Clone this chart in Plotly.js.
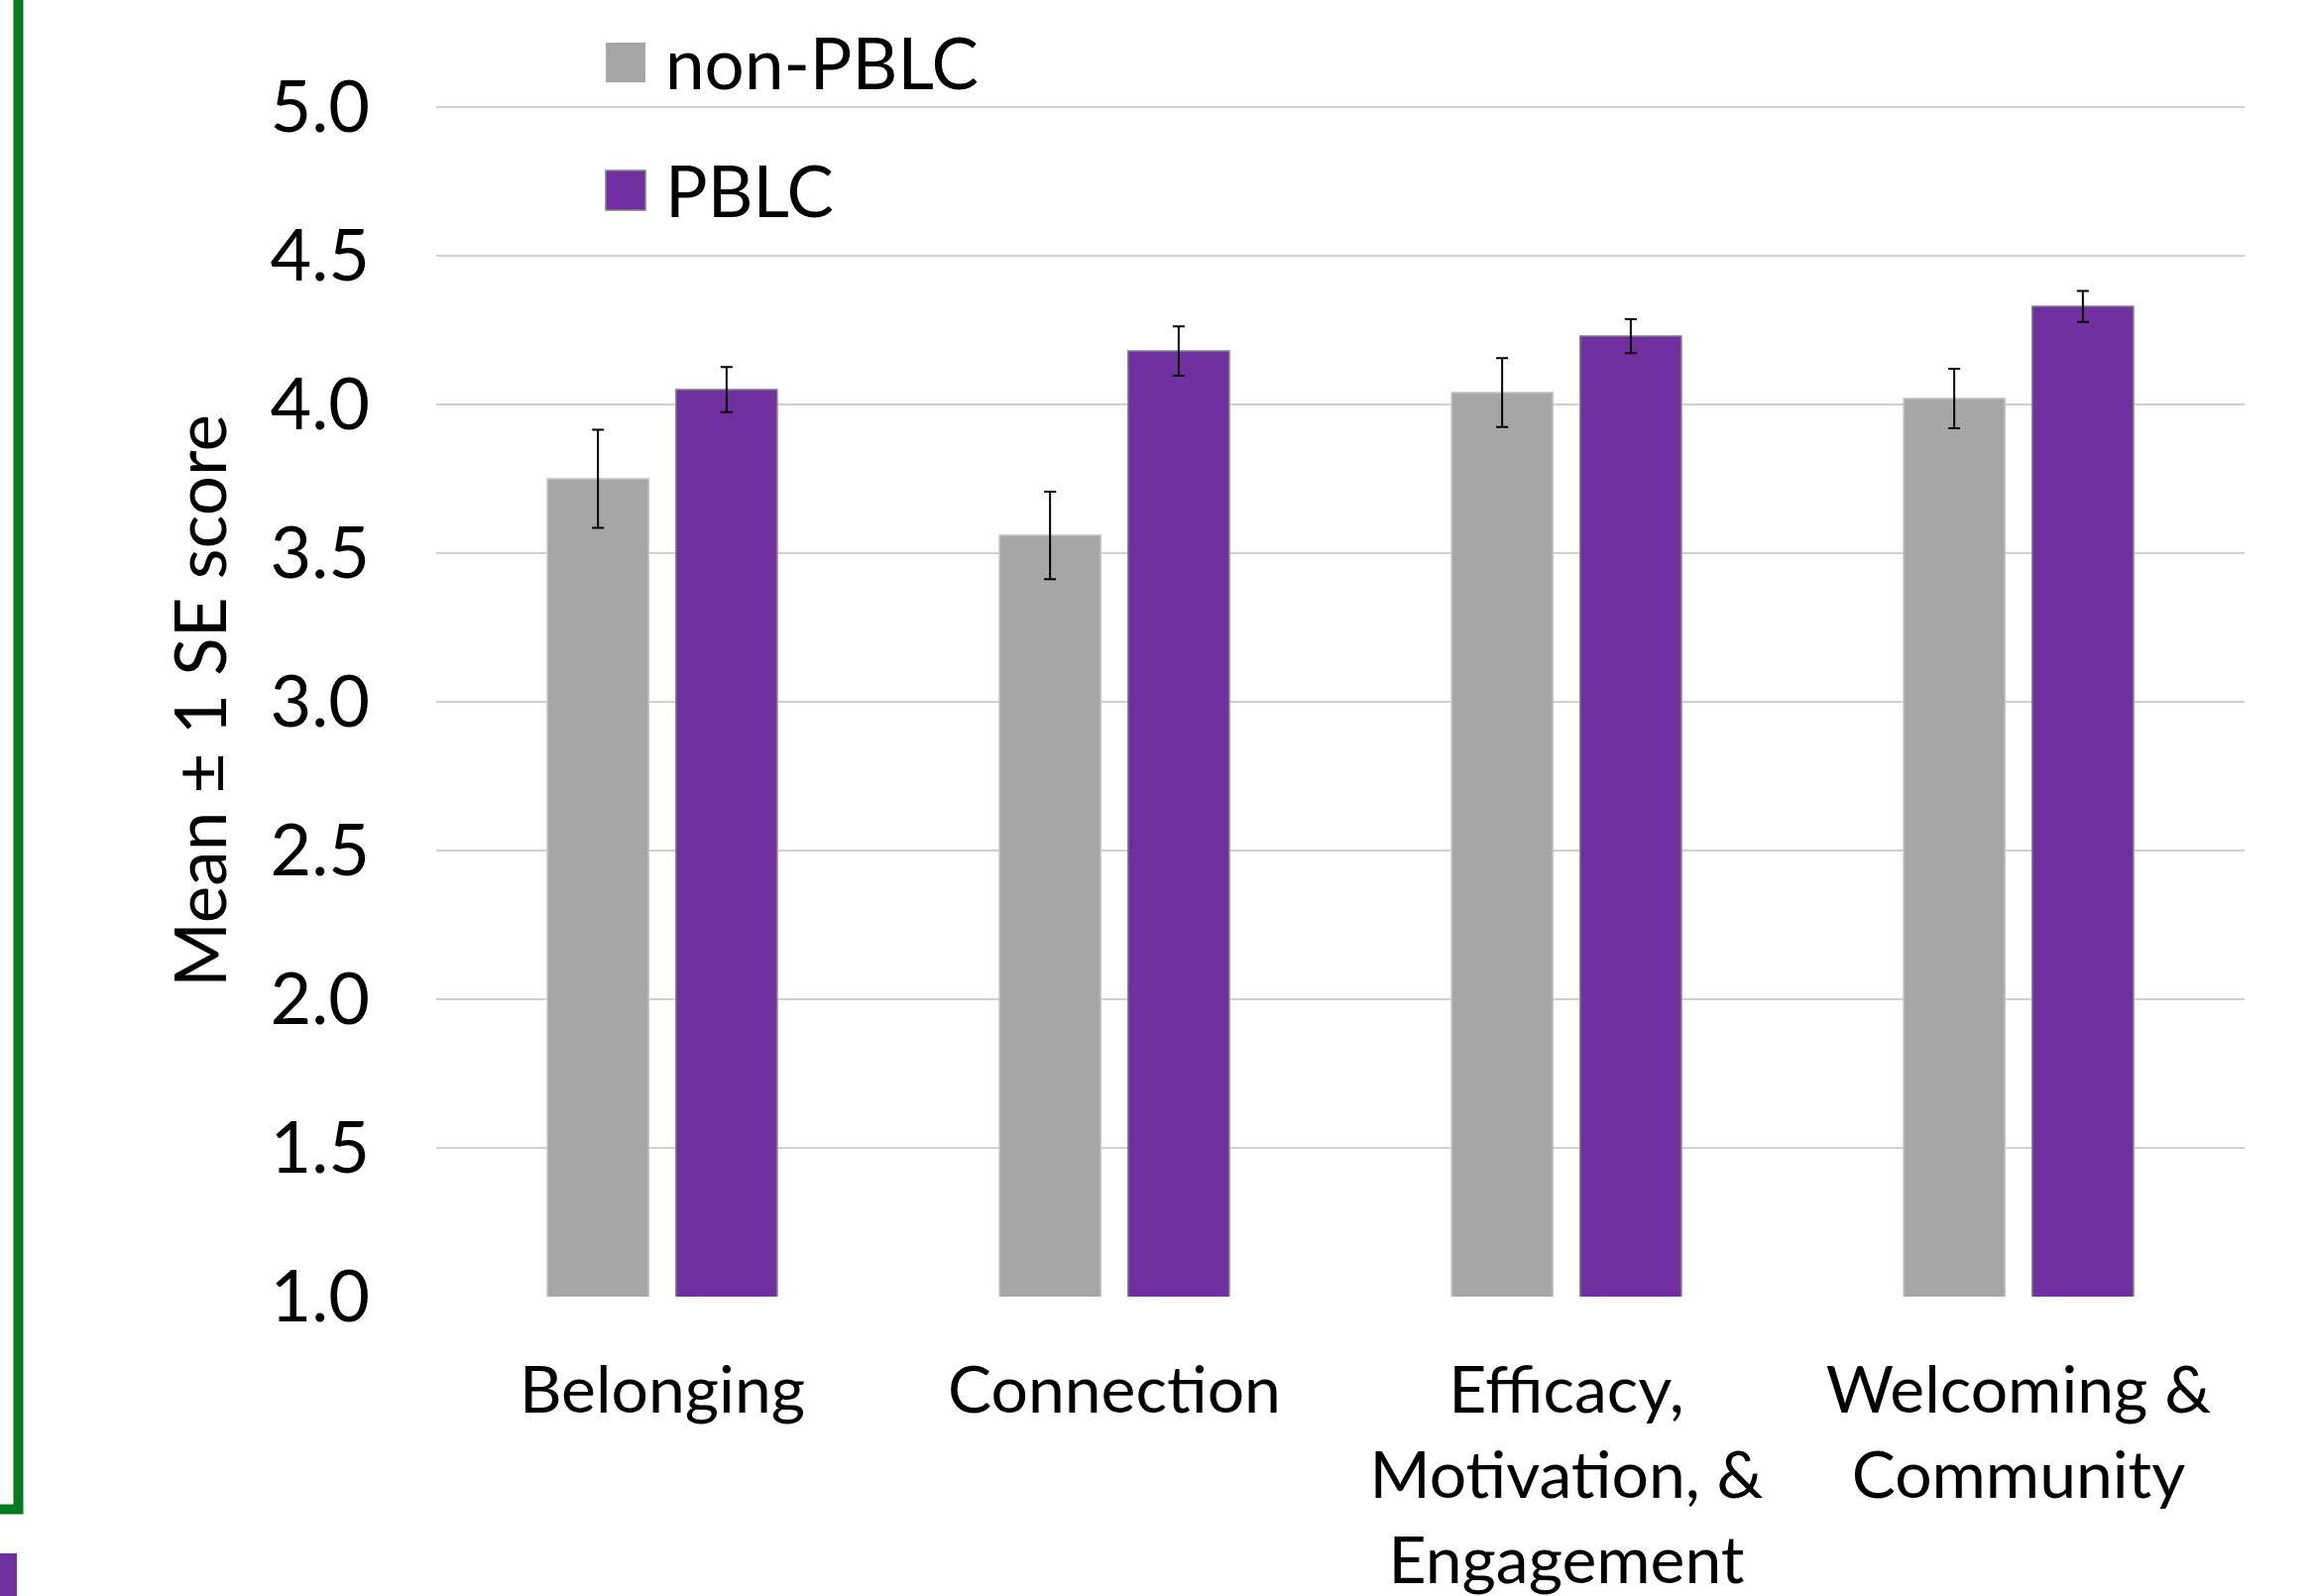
<!DOCTYPE html>
<html>
<head>
<meta charset="utf-8">
<script src="https://cdn.plot.ly/plotly-3.0.1.min.js"></script>
<style>
  html, body { margin: 0; padding: 0; background: #ffffff; }
  #chart { width: 2334px; height: 1610px; }
</style>
</head>
<body>
<div id="chart"></div>
<script>
// ---- data ----
const categories = [
  "Belonging",
  "Connection",
  "Efficacy,<br>Motivation, &<br>Engagement",
  "Welcoming &<br>Community"
];
const seriesNames = ["non-PBLC", "PBLC"];
const nonPBLCMean = [3.75, 3.56, 4.04, 4.02];
const nonPBLCSE   = [0.165, 0.147, 0.116, 0.100];
const pblcMean    = [4.05, 4.18, 4.23, 4.33];
const pblcSE      = [0.076, 0.083, 0.057, 0.052];
const yTickVals   = [1.0, 1.5, 2.0, 2.5, 3.0, 3.5, 4.0, 4.5, 5.0];
const yTickText   = ["1.0", "1.5", "2.0", "2.5", "3.0", "3.5", "4.0", "4.5", "5.0"];
const yTitle      = "Mean ± 1 SE score";

// ---- styles ----
const FONT = "Lato, 'Open Sans', sans-serif";
const GRAY = "#A6A6A6";
const PURPLE = "#7030A0";

const traces = [
  {
    type: "bar", name: seriesNames[0], x: categories, y: nonPBLCMean,
    marker: { color: GRAY, line: { color: "#C4C4C4", width: 1.5 } },
    error_y: { type: "data", array: nonPBLCSE, visible: true, color: "#000000", thickness: 2, width: 6 },
    showlegend: false, hoverinfo: "skip"
  },
  {
    type: "bar", name: seriesNames[1], x: categories, y: pblcMean,
    marker: { color: PURPLE, line: { color: "#808080", width: 1.5 } },
    error_y: { type: "data", array: pblcSE, visible: true, color: "#000000", thickness: 2, width: 6 },
    showlegend: false, hoverinfo: "skip"
  }
];

// plot area: x 440..2264 px, y 106..1308 px
const L = 440, T = 106, W = 1824, H = 1202;
const px = v => (v - L) / W;
const py = v => (T + H - v) / H;

const shapes = [
  // hide gridline at the 1.0 baseline (drawn above grid, below bars)
  { type: "rect", xref: "paper", yref: "y", x0: 0, x1: 1, y0: 0.99, y1: 1.008,
    fillcolor: "#ffffff", line: { width: 0 }, layer: "between" },
  // legend swatches
  { type: "rect", xref: "paper", yref: "paper", x0: px(611), x1: px(651), y0: py(43), y1: py(83),
    fillcolor: GRAY, line: { width: 0 } },
  { type: "rect", xref: "paper", yref: "paper", x0: px(611), x1: px(651), y0: py(172), y1: py(212),
    fillcolor: PURPLE, line: { color: "#808080", width: 1.5 } },
  // slide frame remnants at the left edge
  { type: "path", xref: "paper", yref: "paper",
    path: `M ${px(18.5)} ${py(-20)} L ${px(18.5)} ${py(1522.5)} L ${px(-10)} ${py(1522.5)}`,
    line: { color: "#077A1F", width: 10 } },
  { type: "rect", xref: "paper", yref: "paper", x0: px(-5), x1: px(17), y0: py(1567), y1: py(1620),
    fillcolor: PURPLE, line: { width: 0 } }
];

const annotations = [
  { xref: "paper", yref: "paper", x: px(669), y: py(62), xanchor: "left", yanchor: "middle",
    text: seriesNames[0], showarrow: false, font: { family: FONT, size: 71, color: "#000000" } },
  { xref: "paper", yref: "paper", x: px(669), y: py(191), xanchor: "left", yanchor: "middle",
    text: seriesNames[1], showarrow: false, font: { family: FONT, size: 71, color: "#000000" } }
];

const layout = {
  width: 2334, height: 1610,
  margin: { l: L, r: 2334 - L - W, t: T, b: 1610 - T - H, pad: 0 },
  paper_bgcolor: "#ffffff", plot_bgcolor: "#ffffff",
  font: { family: FONT, color: "#000000" },
  barmode: "group", bargap: 0.431, bargroupgap: 0.213,
  showlegend: false,
  xaxis: {
    type: "category", showgrid: false, zeroline: false, showline: false, ticks: "",
    tickfont: { family: FONT, size: 66, color: "#000000" },
    ticklabelstandoff: 50, automargin: false
  },
  yaxis: {
    range: [1, 5.007], tickvals: yTickVals, ticktext: yTickText,
    showgrid: true, gridcolor: "#D0D0D0", gridwidth: 2,
    zeroline: false, showline: false, ticks: "",
    tickfont: { family: FONT, size: 72, color: "#000000" },
    ticklabelstandoff: 66, automargin: false,
    title: { text: yTitle, font: { family: FONT, size: 71, color: "#000000" }, standoff: 20 }
  },
  shapes: shapes,
  annotations: annotations
};

Plotly.newPlot("chart", traces, layout, { displayModeBar: false, staticPlot: true });
</script>
</body>
</html>
